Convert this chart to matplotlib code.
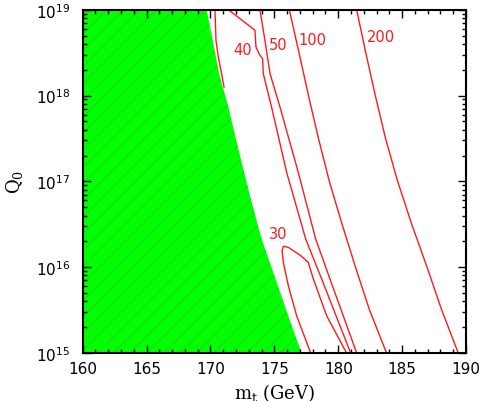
import numpy as np
import matplotlib
matplotlib.use('Agg')
import matplotlib.pyplot as plt
from matplotlib.ticker import FixedLocator, LogLocator, NullFormatter, FuncFormatter

plt.rcParams['mathtext.fontset'] = 'dejavuserif'
plt.rcParams['hatch.linewidth'] = 0.7

# excluded (green) region: right edge m_t vs log10 Q0
green_mt = [169.70, 170.17, 170.67, 171.40, 172.18, 173.09, 174.00, 175.18, 176.17, 177.13]
green_lq = [19.0, 18.643, 18.255, 17.866, 17.377, 16.833, 16.329, 15.824, 15.396, 15.0]

# contour lines (m_t, log10 Q0)
c30_mt = [177.84, 176.74, 176.09, 175.70, 175.60, 175.70, 176.09, 177.00, 177.65, 178.05, 179.09, 180.65]
c30_lq = [15.0, 15.435, 15.785, 16.057, 16.193, 16.243, 16.231, 16.142, 16.057, 15.863, 15.435, 15.0]

c40a_mt = [170.35, 170.43, 170.61, 170.87, 171.06]
c40a_lq = [19.0, 18.643, 18.449, 18.255, 18.099]

c40b_mt = [171.40, 173.48, 173.56, 173.87, 174.08, 174.13, 174.39, 174.52, 174.78, 175.96, 177.45, 178.70, 180.97]
c40b_lq = [19.0, 18.760, 18.565, 18.468, 18.430, 18.255, 18.099, 18.022, 17.866, 17.105, 16.329, 15.863, 15.0]

c50_mt = [173.87, 174.26, 174.66, 175.44, 176.87, 178.23, 179.35, 181.44]
c50_lq = [19.0, 18.643, 18.255, 17.866, 17.105, 16.329, 15.863, 15.0]

c100_mt = [176.17, 177.00, 177.73, 178.45, 179.30, 180.30, 181.35, 182.45, 183.78]
c100_lq = [19.0, 18.45, 17.96, 17.5, 17.0, 16.5, 16.0, 15.5, 15.0]

c200_mt = [181.44, 182.15, 182.90, 183.70, 184.65, 185.75, 186.95, 188.10, 189.39]
c200_lq = [19.0, 18.5, 18.0, 17.5, 17.0, 16.5, 16.0, 15.5, 15.0]

labels = ['30', '40', '50', '100', '200']
label_mt = [175.30, 172.52, 175.33, 177.99, 183.31]
label_lq = [16.387, 18.534, 18.593, 18.650, 18.689]

fig = plt.figure(figsize=(4.79, 4.02), dpi=100)
ax = fig.add_axes([0.1727, 0.1194, 0.8002, 0.854])

gq = 10 ** np.array(green_lq)
ax.fill_betweenx(gq, 160, green_mt, facecolor='#00ff00', edgecolor='#1fd21f',
                 hatch='//', linewidth=0, zorder=1)

for mt, lq in [(c30_mt, c30_lq), (c40a_mt, c40a_lq), (c40b_mt, c40b_lq),
               (c50_mt, c50_lq), (c100_mt, c100_lq), (c200_mt, c200_lq)]:
    ax.plot(mt, 10 ** np.array(lq), color='#ff1a1a', lw=1.0, zorder=2)

for lab, mt, lq in zip(labels, label_mt, label_lq):
    ax.text(mt, 10 ** lq, lab, color='#ff1a1a', fontsize=10.5, ha='center',
            va='center', family='DejaVu Sans')

ax.set_yscale('log')
ax.set_xlim(160, 190)
ax.set_ylim(1e15, 1e19)

ax.xaxis.set_major_locator(FixedLocator(np.arange(160, 191, 5)))
ax.xaxis.set_minor_locator(FixedLocator(np.arange(160, 191, 1)))
ax.yaxis.set_major_locator(LogLocator(base=10, numticks=10))
ax.yaxis.set_minor_locator(LogLocator(base=10, subs=np.arange(2, 10), numticks=20))
ax.yaxis.set_minor_formatter(NullFormatter())
ax.yaxis.set_major_formatter(FuncFormatter(
    lambda v, p: r'$\mathregular{10^{%d}}$' % round(np.log10(v))))

ax.tick_params(which='both', direction='in', top=True, right=True,
               labelsize=11, width=1.0)
ax.tick_params(which='major', length=6)
ax.tick_params(which='minor', length=3)
ax.tick_params(axis='y', which='major', pad=9)
ax.tick_params(axis='x', which='major', pad=6)
for t in ax.get_xticklabels() + ax.get_yticklabels():
    t.set_family('DejaVu Sans')
for s in ax.spines.values():
    s.set_linewidth(1.5)

ax.set_xlabel(r'$\mathrm{m_t}$ (GeV)', family='DejaVu Serif', fontsize=13, labelpad=3)
ax.set_ylabel(r'$\mathrm{Q_0}$', family='DejaVu Serif', fontsize=13, labelpad=8)

fig.savefig('out.png', dpi=100)
